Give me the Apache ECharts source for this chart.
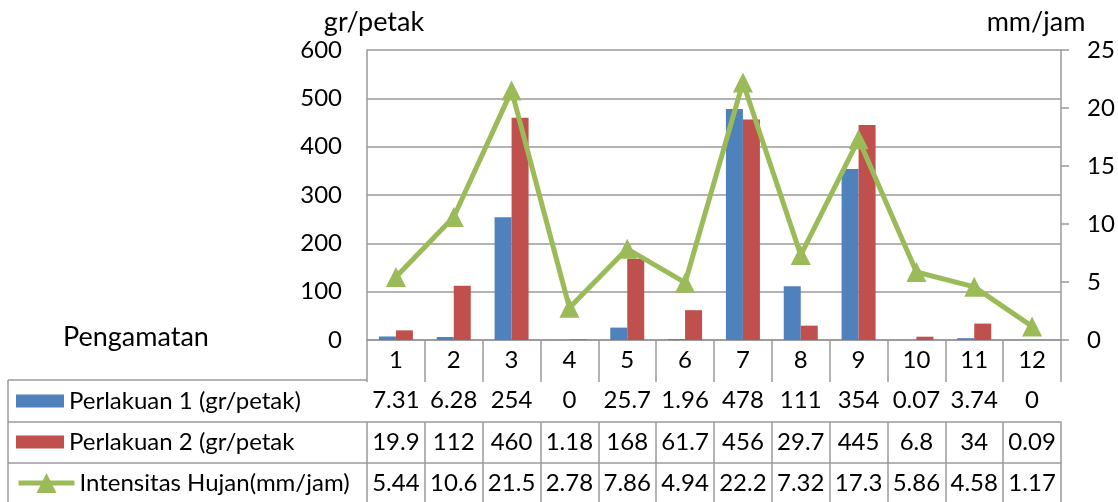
<!DOCTYPE html>
<html>
<head>
<meta charset="utf-8">
<script src="https://cdn.jsdelivr.net/npm/echarts@6/dist/echarts.min.js"></script>
<style>
  html, body { margin: 0; padding: 0; background: #fff; }
  #chart { width: 1118px; height: 502px; }
</style>
</head>
<body>
<div id="chart"></div>
<script>
// Data
var categories = ["1", "2", "3", "4", "5", "6", "7", "8", "9", "10", "11", "12"];
var perlakuan1 = [7.31, 6.28, 254, 0, 25.7, 1.96, 478, 111, 354, 0.07, 3.74, 0];
var perlakuan2 = [19.9, 112, 460, 1.18, 168, 61.7, 456, 29.7, 445, 6.8, 34, 0.09];
var intensitas = [5.44, 10.6, 21.5, 2.78, 7.86, 4.94, 22.2, 7.32, 17.3, 5.86, 4.58, 1.17];
var seriesNames = ["Perlakuan 1 (gr/petak)", "Perlakuan 2 (gr/petak", "Intensitas Hujan(mm/jam)"];

var FONT = "Lato, 'Open Sans', sans-serif";
var FS = 24;      // ticks, table and legend
var FS_TITLE = 27; // axis titles and "Pengamatan"
var C = { blue: "#4F81BD", red: "#C0504D", green: "#9BBB59", line: "#9A9A9A", text: "#000" };

// table row: a category axis placed under the grid, labels are the values
function tableAxis(offset, tickLen, values) {
  return {
    type: "category",
    gridIndex: 0,
    position: "bottom",
    offset: offset,
    data: categories,
    axisLine: { show: true, lineStyle: { color: C.line, width: 1.5 } },
    axisTick: { show: true, length: tickLen, alignWithLabel: false, lineStyle: { color: C.line, width: 1.5 } },
    axisLabel: {
      interval: 0,
      margin: 20,
      verticalAlign: "middle",
      fontSize: FS,
      fontFamily: FONT,
      color: C.text,
      formatter: function (v, i) { return values ? String(values[i]) : v; }
    },
    splitLine: { show: false }
  };
}

function rowLegend(name, top, w, h, icon) {
  var l = {
    data: [name],
    orient: "vertical",
    left: 16,
    top: top,
    padding: 0,
    itemWidth: w,
    itemHeight: h,
    selectedMode: false,
    textStyle: { fontSize: FS, lineHeight: 26, fontFamily: FONT, color: C.text }
  };
  if (icon) l.icon = icon;
  else l.lineStyle = { width: 5, color: C.green };
  return l;
}

function label(text, x, y, size, align) {
  return {
    type: "text", x: x, y: y,
    style: { text: text, fontSize: size, fontFamily: FONT, fill: C.text, align: align, verticalAlign: "middle" }
  };
}

function frameLine(x1, y1, x2, y2) {
  return { type: "line", shape: { x1: x1, y1: y1, x2: x2, y2: y2 }, style: { stroke: C.line, lineWidth: 1.5 } };
}

var chart = echarts.init(document.getElementById("chart"));
chart.setOption({
  animation: false,
  textStyle: { fontFamily: FONT },
  grid: { left: 367, right: 57, top: 50, bottom: 162, containLabel: false },
  legend: [
    rowLegend(seriesNames[0], 401 - 13, 48, 13, "rect"),
    rowLegend(seriesNames[1], 442 - 13, 48, 13, "rect"),
    rowLegend(seriesNames[2], 483 - 13, 56, 25)
  ],
  xAxis: [
    tableAxis(0, 40, null),
    tableAxis(40, 42, perlakuan1),
    tableAxis(82, 41, perlakuan2),
    tableAxis(123, 41, intensitas)
  ],
  yAxis: [
    {
      type: "value",
      min: 0, max: 600, interval: 100,
      axisLine: { show: true, lineStyle: { color: C.line, width: 1.5 } },
      axisTick: { show: false },
      axisLabel: { fontSize: FS, fontFamily: FONT, color: C.text, margin: 25 },
      splitLine: { show: true, lineStyle: { color: C.line, width: 1.5 } }
    },
    {
      type: "value",
      position: "right",
      min: 0, max: 25, interval: 5,
      axisLine: { show: true, lineStyle: { color: C.line, width: 1.5 } },
      axisTick: { show: true, length: 8, lineStyle: { color: C.line, width: 1.5 } },
      axisLabel: { fontSize: FS, fontFamily: FONT, color: C.text, margin: 26 },
      splitLine: { show: false }
    }
  ],
  series: [
    {
      name: seriesNames[0],
      type: "bar",
      data: perlakuan1,
      barWidth: 17,
      barGap: "0%",
      itemStyle: { color: C.blue }
    },
    {
      name: seriesNames[1],
      type: "bar",
      data: perlakuan2,
      barWidth: 17,
      barGap: "0%",
      itemStyle: { color: C.red }
    },
    {
      name: seriesNames[2],
      type: "line",
      yAxisIndex: 1,
      data: intensitas,
      symbol: "triangle",
      symbolSize: 20,
      showAllSymbol: true,
      z: 5,
      lineStyle: { color: C.green, width: 5 },
      itemStyle: { color: C.green }
    }
  ],
  graphic: [
    label("gr/petak", 374, 22, FS_TITLE, "center"),
    label("mm/jam", 1036, 22, FS_TITLE, "center"),
    label("Pengamatan", 63, 337, FS_TITLE, "left"),
    // legend column frame
    frameLine(8, 380, 8, 502),
    frameLine(8, 380, 367, 380),
    frameLine(8, 422, 367, 422),
    frameLine(8, 463, 367, 463)
  ]
});
</script>
</body>
</html>
